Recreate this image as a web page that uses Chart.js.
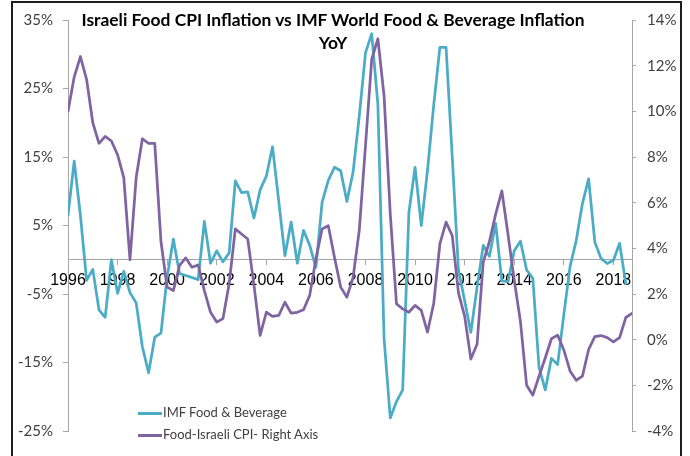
<!DOCTYPE html>
<html>
<head>
<meta charset="utf-8">
<title>Israeli Food CPI Inflation vs IMF World Food & Beverage Inflation</title>
<script src="https://cdn.jsdelivr.net/npm/chart.js@4.4.1/dist/chart.umd.min.js"></script>
<style>
  html, body { margin: 0; padding: 0; background: #fff; }
  #wrap { position: relative; width: 690px; height: 456px; overflow: hidden; }
  #chart-box { position: absolute; left: 0; top: 0; width: 690px; height: 456px; }
  #frame { position: absolute; left: 11px; top: 1px; width: 671px; height: 480px; border: 2px solid #1e1e1e; box-sizing: border-box; pointer-events: none; }
  #title { position: absolute; left: 0; width: 666px; top: 8px; text-align: center; font: bold 17.4px Lato, sans-serif; line-height: 23px; color: #000; }
  .legend { position: absolute; left: 138px; height: 22px; line-height: 22px; font: 13px Lato, sans-serif; color: #404040; white-space: nowrap; }
  .legend .swatch { display: inline-block; width: 24px; height: 3px; vertical-align: middle; margin-right: 1px; }
</style>
</head>
<body>
<div id="wrap">
  <div id="chart-box"><canvas id="inflationChart"></canvas></div>
  <div id="title">Israeli Food CPI Inflation vs IMF World Food &amp; Beverage Inflation<br>YoY</div>
  <div class="legend" style="top:404px"><span class="swatch" style="background:#4bacc6"></span>IMF Food &amp; Beverage</div>
  <div class="legend" style="top:426px"><span class="swatch" style="background:#8064a2"></span>Food-Israeli CPI- Right Axis</div>
  <div id="frame"></div>
</div>
<script>
// Quarterly series, 1996 Q1 onwards
const startYear = 1996;

// IMF world food & beverage price index, YoY % (left axis)
const imfFoodBeverage = [
  6.5, 14.4, 6.5, -3.0, -1.4, -7.3, -8.4, 0.0, -4.9, -1.7,
  -4.8, -6.3, -12.7, -16.5, -11.3, -10.7, -2.5, 3.0, -2.0, -2.3,
  -2.6, -2.9, 5.6, -0.5, 1.3, -0.3, 1.0, 11.5, 9.8, 9.9,
  6.1, 10.2, 12.2, 16.5, 8.6, 0.6, 5.5, -0.5, 4.3, 2.1,
  -1.1, 8.4, 11.6, 13.5, 13.0, 8.5, 12.8, 21.0, 30.2, 33.0,
  22.7, -11.5, -23.1, -20.7, -19.0, 6.9, 13.5, 5.0, 13.0, 22.5,
  31.0, 31.0, 15.0, -1.5, -6.0, -10.6, -4.0, 2.1, 0.5, 5.3,
  -3.1, -3.2, 1.3, 2.7, -1.5, -2.7, -15.7, -19.0, -14.4, -15.3,
  -8.0, -1.0, 2.8, 8.2, 11.8, 2.6, 0.2, -0.55, -0.07, 2.4,
  -3.5, null
];

// Israeli CPI food component, YoY % (right axis)
const israeliFoodCpi = [
  10.0, 11.5, 12.4, 11.4, 9.5, 8.6, 8.9, 8.7, 8.1, 7.1,
  3.5, 7.1, 8.8, 8.6, 8.6, 4.3, 2.3, 2.15, 3.25, 3.58,
  3.17, 3.27, 2.15, 1.2, 0.77, 0.92, 2.45, 4.85, 4.63, 4.41,
  2.4, 0.19, 1.2, 1.02, 1.06, 1.64, 1.16, 1.2, 1.31, 1.94,
  3.54, 4.85, 4.99, 3.6, 2.3, 1.86, 2.73, 4.8, 8.5, 12.27,
  13.18, 10.67, 5.5, 1.57, 1.35, 1.2, 1.5, 1.28, 0.33, 1.57,
  4.19, 5.15, 4.55, 2.05, 1.03, -0.85, -0.2, 3.4, 4.3, 5.5,
  6.52, 4.6, 2.6, 0.8, -2.0, -2.43, -1.6, -0.8, 0.04, 0.2,
  -0.45, -1.37, -1.78, -1.6, -0.43, 0.13, 0.18, 0.09, -0.1, 0.09,
  0.97, 1.15
];

// axis ranges and tick steps
const leftAxisRange = [-25, 35, 10];
const rightAxisRange = [-4, 14, 2];
const yearTickStep = 8; // quarters between year labels

const toPoints = arr => arr.map((v, i) => ({ x: i, y: v }));

const axisGray = '#a6a6a6';
const tickFont = { family: 'Lato', size: 15 };
const tickColor = '#404040';

new Chart(document.getElementById('inflationChart'), {
  type: 'line',
  data: {
    datasets: [
      {
        label: 'IMF Food & Beverage',
        data: toPoints(imfFoodBeverage),
        yAxisID: 'y',
        borderColor: '#4bacc6',
        borderWidth: 2.75,
        pointRadius: 0,
        borderJoinStyle: 'round',
        borderCapStyle: 'round',
        spanGaps: false,
        order: 1
      },
      {
        label: 'Food-Israeli CPI- Right Axis',
        data: toPoints(israeliFoodCpi),
        yAxisID: 'y1',
        borderColor: '#8064a2',
        borderWidth: 2.75,
        pointRadius: 0,
        borderJoinStyle: 'round',
        borderCapStyle: 'round',
        order: 0
      }
    ]
  },
  options: {
    responsive: true,
    maintainAspectRatio: false,
    animation: false,
    devicePixelRatio: 1,
    layout: { padding: { top: 18.5, bottom: 25, left: 0, right: 0 } },
    plugins: { legend: { display: false }, tooltip: { enabled: false }, title: { display: false } },
    scales: {
      x: {
        type: 'linear',
        min: 0,
        max: israeliFoodCpi.length - 1,
        position: { y: 0 },
        grid: { drawOnChartArea: false, drawTicks: true, tickLength: 5, color: axisGray },
        border: { display: true, color: axisGray, width: 1 },
        ticks: {
          stepSize: yearTickStep,
          includeBounds: false,
          autoSkip: false,
          maxRotation: 0,
          padding: 6,
          color: '#000',
          font: { family: 'Liberation Sans', size: 16 },
          callback: v => (v % 4 === 0 ? String(startYear + v / 4) : '')
        }
      },
      y: {
        position: 'left',
        min: leftAxisRange[0],
        max: leftAxisRange[1],
        grid: { drawOnChartArea: false, tickLength: 5, color: axisGray },
        border: { color: axisGray, width: 1 },
        ticks: { stepSize: leftAxisRange[2], padding: 10, color: tickColor, font: tickFont, callback: v => v + '%' },
        afterFit: scale => { scale.width = 68; }
      },
      y1: {
        position: 'right',
        min: rightAxisRange[0],
        max: rightAxisRange[1],
        grid: { drawOnChartArea: false, tickLength: 4, color: axisGray },
        border: { color: axisGray, width: 1 },
        ticks: { stepSize: rightAxisRange[2], padding: 11, color: tickColor, font: tickFont, callback: v => v + '%' },
        afterFit: scale => { scale.width = 58; }
      }
    }
  }
});
</script>
</body>
</html>
